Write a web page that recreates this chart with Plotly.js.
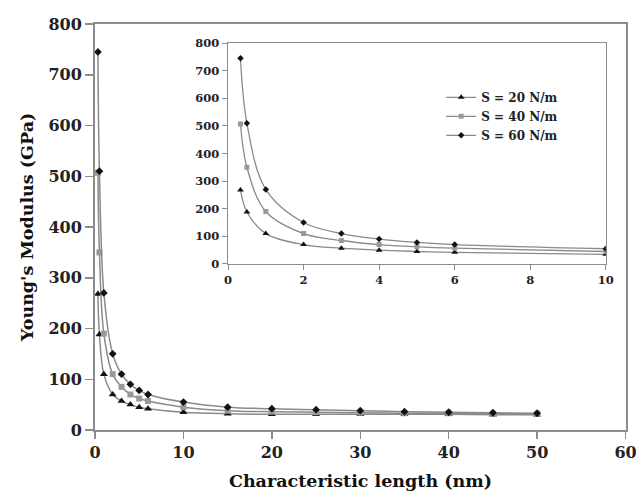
<!DOCTYPE html>
<html>
<head>
<meta charset="utf-8">
<script src="https://cdn.plot.ly/plotly-3.0.1.min.js"></script>
<style>html,body{margin:0;padding:0;background:#fff;}#chart{width:636px;height:493px;}</style>
</head>
<body>
<div id="chart"></div>
<script>
// Data
const lengthNm = [0.33, 0.5, 1, 2, 3, 4, 5, 6, 10, 15, 20, 25, 30, 35, 40, 45, 50];
const s20 = [268, 188, 110, 70, 57, 50, 45, 42, 35, 32, 31, 31, 31, 31, 31, 30, 30];
const s40 = [507, 350, 190, 110, 85, 70, 62, 57, 45, 38, 36, 35, 34, 33, 33, 32, 32];
const s60 = [745, 510, 270, 150, 110, 90, 78, 70, 55, 45, 42, 40, 38, 36, 35, 34, 33];
const seriesNames = ['S = 20 N/m', 'S = 40 N/m', 'S = 60 N/m'];
const mainXTicks = [0, 10, 20, 30, 40, 50, 60];
const insetMaxX = 10;

const FONT = 'DejaVu Serif, serif';
const lineCol = '#8a8a8a';
const axisCol = '#8c8c8c';

const styles = [
  {symbol: 'triangle-up', color: '#111', size: 7},
  {symbol: 'square', color: '#999', size: 6},
  {symbol: 'diamond', color: '#111', size: 6}
];
const allY = [s20, s40, s60];

const traces = [];
allY.forEach((ys, i) => {
  traces.push({
    x: lengthNm, y: ys, type: 'scatter', mode: 'lines+markers',
    name: seriesNames[i], showlegend: false,
    line: {color: lineCol, width: 1.5, shape: 'spline', smoothing: 1},
    marker: {symbol: styles[i].symbol, color: styles[i].color, size: styles[i].size},
    xaxis: 'x', yaxis: 'y', hoverinfo: 'x+y'
  });
});
allY.forEach((ys, i) => {
  const xs = [], yv = [];
  lengthNm.forEach((x, k) => { if (x <= insetMaxX) { xs.push(x); yv.push(ys[k]); } });
  traces.push({
    x: xs, y: yv, type: 'scatter', mode: 'lines+markers',
    name: seriesNames[i], showlegend: true,
    line: {color: lineCol, width: 1.3, shape: 'spline', smoothing: 1},
    marker: {symbol: styles[i].symbol, color: styles[i].color, size: styles[i].size - 1},
    xaxis: 'x2', yaxis: 'y2'
  });
});

const layout = {
  width: 636, height: 493,
  margin: {l: 95, r: 10, t: 24, b: 63},
  paper_bgcolor: '#fff', plot_bgcolor: '#fff',
  font: {family: FONT, color: '#222'},
  showlegend: true,
  legend: {
    x: 0.652, y: 0.855, xanchor: 'left', yanchor: 'top',
    bgcolor: 'rgba(255,255,255,0)', borderwidth: 0,
    font: {family: FONT, size: 12, color: '#222', weight: 'bold'},
    tracegroupgap: 0, itemwidth: 30
  },
  xaxis: {
    range: [0, 60.05], tickmode: 'array', tickvals: mainXTicks, ticktext: mainXTicks.map(String),
    ticklabeloverflow: 'allow',
    showgrid: false, zeroline: false,
    showline: true, linecolor: axisCol, linewidth: 2, mirror: true,
    ticks: 'outside', ticklen: 7, tickwidth: 1.5, tickcolor: axisCol,
    tickfont: {family: FONT, size: 16, color: '#222', weight: 'bold'},
    title: {text: '<b>Characteristic length (nm)</b>', font: {family: FONT, size: 17.5, color: '#111'}, standoff: 14}
  },
  yaxis: {
    range: [0, 800], dtick: 100, tick0: 0,
    showgrid: false, zeroline: false,
    showline: true, linecolor: axisCol, linewidth: 2, mirror: true,
    ticks: 'outside', ticklen: 8, tickwidth: 1.5, tickcolor: axisCol,
    tickfont: {family: FONT, size: 16, color: '#222', weight: 'bold'},
    title: {text: '<b>Young\'s Modulus (GPa)</b>', font: {family: FONT, size: 17.5, color: '#111'}, standoff: 10}
  },
  xaxis2: {
    domain: [0.2505, 0.962], anchor: 'y2',
    range: [0, 10], dtick: 2, tick0: 0,
    showgrid: false, zeroline: false,
    showline: true, linecolor: axisCol, linewidth: 1.5, mirror: true,
    ticks: 'outside', ticklen: 5, tickwidth: 1, tickcolor: axisCol,
    tickfont: {family: FONT, size: 11.5, color: '#222', weight: 'bold'}
  },
  yaxis2: {
    domain: [0.409, 0.953], anchor: 'x2',
    range: [0, 800], dtick: 100, tick0: 0,
    showgrid: false, zeroline: false,
    showline: true, linecolor: axisCol, linewidth: 1.5, mirror: true,
    ticks: 'outside', ticklen: 5, tickwidth: 1, tickcolor: axisCol,
    tickfont: {family: FONT, size: 11.5, color: '#222', weight: 'bold'}
  }
};

Plotly.newPlot('chart', traces, layout, {staticPlot: true, displayModeBar: false});
</script>
</body>
</html>
